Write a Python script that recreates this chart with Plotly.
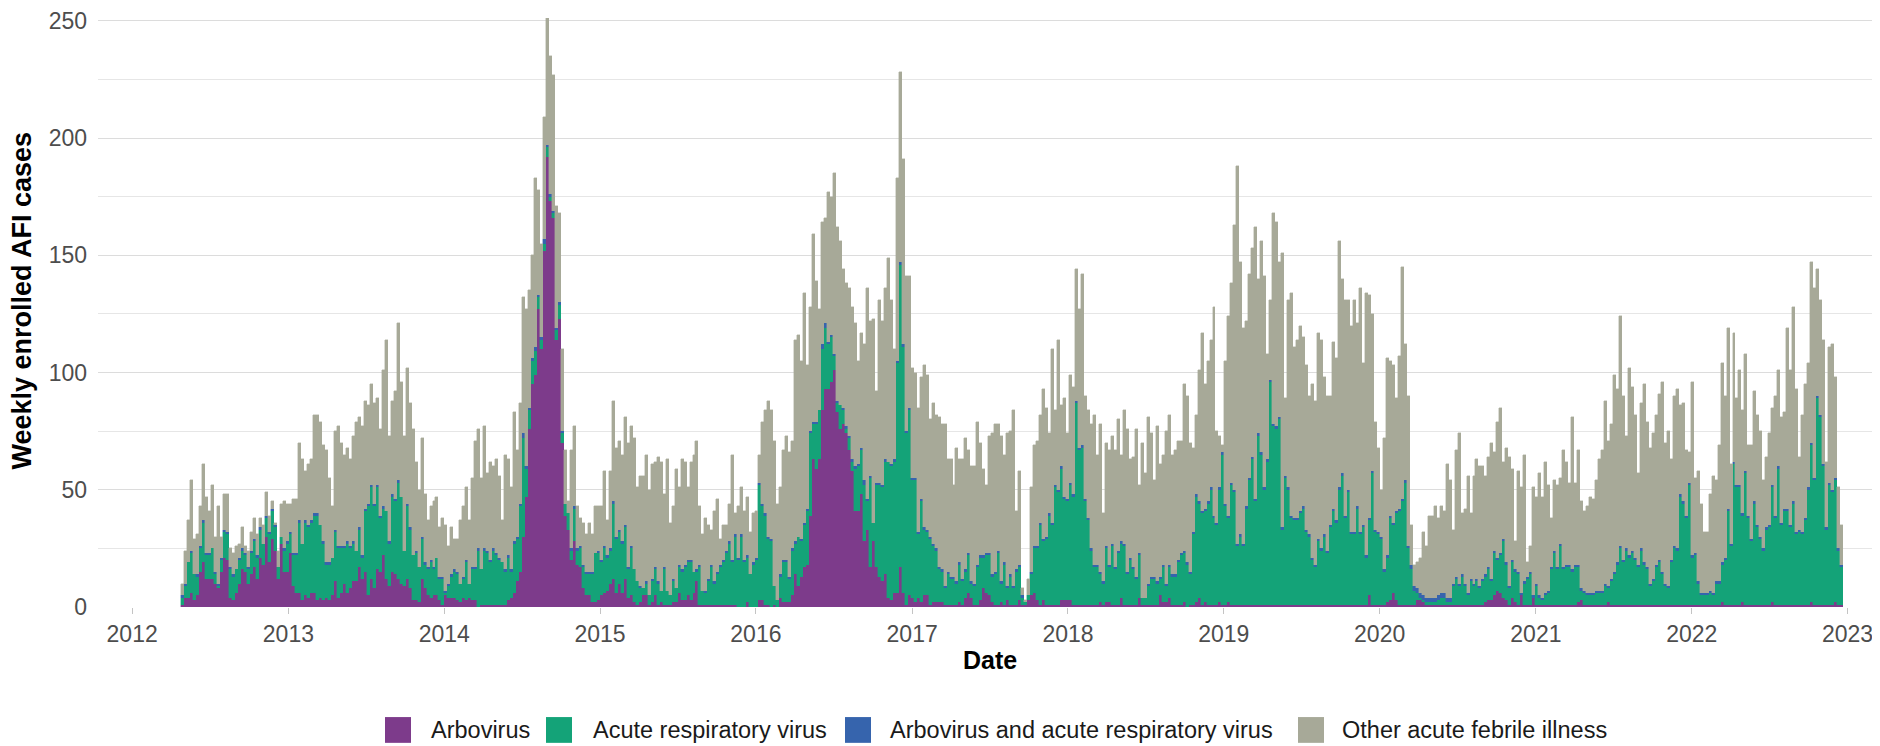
import pandas as pd
import plotly.graph_objects as go

# ---------------- data (weekly counts) ----------------
week_start = "2012-04-29"
n_weeks = 556

total_cases = [
    10,24,37,54,29,31,43,61,47,41,52,30,43,30,48,48,25,23,26,27,34,26,24,32,38,31,38,35,49,39,45,36,24,44,45,44,44,46,46,70,63,58,61,63,82,
    82,79,69,67,55,43,75,77,70,65,68,63,73,79,81,77,88,86,95,87,89,76,101,114,73,88,92,121,96,73,102,87,76,62,50,72,48,37,43,45,47,34,38,35,26,34,29,
    29,37,43,51,37,55,71,76,55,77,57,62,60,63,56,37,65,63,51,83,67,87,132,127,135,150,183,178,155,209,251,235,227,171,168,110,67,45,67,77,43,38,36,31,36,31,43,
    43,43,58,37,58,88,68,71,65,81,70,77,72,51,56,56,65,50,61,62,64,62,48,63,36,43,59,51,63,62,51,62,65,71,43,31,38,35,33,41,46,29,35,35,44,65,40,
    43,51,41,47,32,40,41,65,79,84,88,84,71,44,51,67,73,66,71,114,116,105,134,103,128,159,139,127,164,166,177,175,185,162,156,144,138,136,128,121,105,117,112,136,122,123,92,
    131,122,136,149,131,110,183,228,191,141,141,102,100,85,98,103,99,80,87,82,81,78,78,63,63,52,68,63,63,72,67,60,60,79,70,59,52,73,74,78,78,73,65,74,75,84,41,
    58,8,3,12,51,69,71,82,93,85,74,110,84,114,86,89,74,99,94,144,127,142,90,84,78,82,65,78,40,70,67,73,67,80,65,84,76,63,64,76,52,70,57,81,74,54,
    77,61,65,75,82,65,67,71,71,95,90,70,68,82,101,117,95,105,114,128,75,73,69,105,124,138,163,188,147,119,122,142,153,162,140,156,141,108,131,168,164,147,151,89,131,134,111,
    114,120,115,103,90,95,88,117,114,98,90,90,113,106,156,140,131,131,120,131,121,136,104,134,133,125,79,68,50,72,106,105,103,89,107,145,112,90,35,18,19,21,32,26,39,39,43,
    38,43,41,61,54,33,67,74,40,42,56,40,56,63,60,60,56,64,70,66,79,85,62,68,64,59,28,58,51,65,19,26,51,47,57,47,62,52,38,54,52,55,67,62,53,81,53,
    67,45,41,43,47,46,54,63,67,88,71,78,99,93,124,90,73,102,94,82,57,87,95,79,68,74,82,91,96,70,75,63,90,93,86,87,67,66,96,55,58,44,32,32,48,56,54,
    69,104,90,119,61,117,89,101,84,108,69,69,92,82,75,54,64,74,85,90,101,81,83,119,101,128,93,64,82,95,104,147,136,144,131,114,62,111,112,98,51,35,
]

arbovirus = [
    1,4,4,6,3,5,15,19,12,12,12,10,8,15,21,20,4,3,6,10,16,15,10,14,17,12,21,18,30,19,29,24,12,27,15,15,23,9,6,6,3,5,4,6,6,
    3,4,3,4,3,5,11,4,6,10,6,8,11,11,17,12,15,5,12,8,16,15,22,12,9,15,14,12,10,9,12,8,3,3,2,12,8,5,4,5,5,3,1,5,4,4,4,
    3,2,4,3,4,3,3,0,1,1,1,1,1,1,1,1,1,3,4,6,11,15,30,47,76,95,99,127,110,152,192,173,166,114,123,70,39,33,20,28,18,17,8,5,5,2,2,
    3,5,6,7,10,12,6,10,6,12,4,5,2,1,2,5,5,1,2,5,1,2,1,1,1,2,2,6,3,3,5,3,6,11,1,1,1,1,1,1,1,1,1,1,1,1,1,
    0,0,0,2,0,0,0,3,3,1,1,0,1,0,4,2,2,2,5,14,9,13,17,18,39,63,59,63,84,93,93,96,101,83,76,78,74,67,58,41,41,48,28,33,17,28,17,
    13,11,14,4,3,6,6,17,6,1,5,4,2,4,2,5,5,1,2,2,2,2,1,1,1,1,1,2,1,4,6,4,1,1,3,8,6,5,2,1,1,2,1,3,1,1,1,
    3,1,1,3,5,6,3,1,3,1,1,1,1,1,3,3,3,3,1,1,1,1,1,1,1,1,1,2,1,2,2,1,1,1,4,1,1,1,1,1,4,1,1,1,1,1,
    1,5,2,2,4,1,1,1,1,2,0,1,1,2,4,1,2,1,1,1,1,2,1,1,2,1,1,1,1,1,1,1,1,1,1,1,1,1,1,1,1,1,1,1,1,1,1,
    1,1,1,1,1,1,1,1,1,1,1,1,1,1,1,1,1,1,1,1,1,1,1,1,5,1,1,1,1,1,2,3,6,3,1,1,1,1,1,1,3,3,2,1,1,1,1,
    1,1,1,1,1,1,1,1,1,1,1,1,1,1,1,1,2,3,3,5,7,6,4,3,1,4,2,1,5,1,1,1,4,1,1,1,1,1,1,1,1,1,1,1,1,1,1,
    2,3,1,1,1,1,1,1,1,1,2,1,1,1,1,1,1,1,1,1,1,1,1,1,1,1,1,1,1,1,1,1,1,1,1,1,1,1,1,1,1,1,1,1,1,1,1,
    1,2,1,1,1,1,1,1,2,1,1,1,1,1,1,1,1,1,2,1,1,1,1,1,1,1,1,1,1,1,1,2,1,1,1,1,1,1,1,2,1,1,
]

respiratory_virus = [
    3,5,15,17,11,8,10,17,10,10,13,4,1,5,11,11,12,10,10,10,8,7,6,9,11,9,12,9,8,12,12,10,5,3,9,12,8,13,16,30,24,31,30,30,33,
    36,31,24,14,15,16,21,21,19,15,21,17,16,13,16,9,26,38,39,35,35,23,20,29,18,32,31,41,37,15,31,25,19,20,15,17,10,11,15,11,16,9,11,1,5,9,11,
    11,8,8,16,6,13,13,24,15,23,22,18,23,21,19,18,14,18,11,21,18,28,42,12,8,10,10,5,4,3,4,2,2,4,6,4,5,7,4,14,6,8,9,9,9,12,21,
    20,14,19,14,14,32,23,22,21,22,12,20,14,10,6,3,5,4,9,11,9,5,15,6,4,9,6,11,12,14,14,16,9,4,16,6,5,10,16,9,13,16,18,22,26,18,29,
    20,30,19,19,14,18,20,49,40,38,28,28,8,3,9,17,17,10,19,13,21,15,18,23,35,15,19,21,26,26,19,19,6,4,10,6,2,5,4,18,19,19,24,12,38,8,35,
    39,40,48,58,57,56,98,129,105,73,79,50,52,27,43,28,27,28,24,22,14,13,7,13,11,11,9,16,10,11,16,6,8,16,18,13,16,17,11,13,22,8,17,5,12,7,14,
    14,3,1,2,9,19,22,34,25,28,38,34,50,48,56,43,42,49,46,86,66,67,44,36,23,16,16,12,9,23,15,25,15,22,23,25,13,19,15,11,18,3,3,8,11,11,
    9,7,15,7,13,12,12,18,21,21,18,13,30,45,40,39,39,43,49,37,34,48,64,42,36,51,48,25,29,25,41,53,62,44,72,64,49,61,95,76,75,79,32,54,49,37,36,
    36,39,41,31,29,19,16,27,23,29,22,33,40,35,49,55,37,48,30,30,41,30,33,20,32,56,31,30,28,14,19,35,29,37,40,44,52,24,15,6,3,1,1,1,1,1,1,
    2,3,3,1,1,8,11,8,12,8,4,10,8,10,7,10,11,13,8,18,13,16,24,15,7,15,13,13,0,9,11,13,0,8,3,2,4,5,15,22,15,25,15,16,16,14,16,
    15,4,5,4,4,4,5,5,5,8,6,10,13,17,24,18,23,20,22,19,16,23,17,15,8,10,16,18,13,8,7,18,24,23,46,43,37,51,20,21,9,4,4,4,5,4,9,
    9,16,19,40,25,60,50,50,37,56,37,27,43,33,28,23,32,33,49,37,58,34,40,40,33,43,30,31,30,36,49,67,53,88,80,59,32,51,48,52,23,16,
]

arbo_and_respiratory = [
    1,1,0,1,0,1,1,1,1,1,0,1,1,1,1,1,1,1,0,1,1,1,1,1,1,1,1,0,1,1,1,1,0,0,1,1,1,1,1,1,0,1,1,1,1,
    1,0,1,1,1,0,1,1,1,1,1,1,1,0,1,1,1,1,1,1,1,1,1,0,1,1,1,1,0,0,1,1,0,1,0,1,1,1,1,1,0,1,1,1,1,1,1,
    1,0,1,1,0,1,1,1,0,1,1,1,1,1,1,0,1,1,1,1,1,1,2,1,1,1,2,1,1,2,1,1,1,1,1,1,0,0,1,1,1,1,1,1,1,1,0,
    1,1,1,1,1,1,1,1,1,1,1,1,0,0,1,0,1,0,1,1,1,0,1,0,0,1,0,1,1,1,1,1,0,1,1,0,1,1,1,1,1,1,1,1,1,1,1,
    1,1,1,1,0,1,1,1,1,1,1,1,0,0,1,1,1,1,1,1,0,1,1,1,1,1,1,0,2,2,1,1,1,1,0,1,1,1,1,1,1,1,2,1,1,0,1,
    1,1,1,0,1,1,1,1,1,1,1,1,1,1,1,1,1,1,1,1,1,1,1,1,1,1,1,1,1,1,1,1,1,1,1,1,1,1,1,1,1,1,1,1,1,1,1,
    1,1,0,0,1,1,1,1,1,1,1,1,1,1,1,1,1,1,1,1,1,1,1,1,1,1,1,1,1,1,1,1,1,1,1,1,1,1,1,1,1,0,0,1,1,1,
    1,1,1,1,1,1,1,1,1,1,1,1,1,1,1,1,1,1,1,1,1,1,1,1,1,1,1,1,1,1,1,1,1,1,1,1,1,1,1,1,1,1,1,1,1,1,1,
    1,1,1,1,1,1,1,1,1,1,1,1,1,1,1,1,1,1,1,1,1,1,1,1,1,1,1,1,1,1,1,1,1,1,1,1,1,1,2,2,2,2,2,2,2,2,2,
    2,2,2,2,2,1,1,1,1,1,1,1,1,1,1,1,1,1,1,1,1,1,1,1,1,1,1,1,1,1,1,1,1,1,1,1,1,1,1,1,1,1,1,1,1,1,1,
    1,1,1,1,1,1,1,1,1,1,1,1,1,1,1,1,1,1,1,1,1,1,1,1,1,1,1,1,1,1,1,1,1,1,1,1,1,1,1,1,1,1,1,1,1,1,1,
    1,1,1,1,1,1,1,1,1,1,1,1,1,1,1,1,1,1,1,1,1,1,1,1,1,1,1,1,1,1,1,1,1,1,1,1,1,1,1,1,1,1,
]

year_ticks = list(range(2012, 2024))
y_ticks = [0, 50, 100, 150, 200, 250]

series_names = ["Arbovirus", "Acute respiratory virus",
                "Arbovirus and acute respiratory virus", "Other acute febrile illness"]
series_colors = ["#7D3B8B", "#14A378", "#3664AD", "#A7A998"]

# ---------------- derived ----------------
for arr in (total_cases, arbovirus, respiratory_virus, arbo_and_respiratory):
    assert len(arr) == n_weeks, len(arr)

other_afi = [max(t - a - r - b, 0) for t, a, r, b in
             zip(total_cases, arbovirus, respiratory_virus, arbo_and_respiratory)]
dates = pd.date_range(week_start, periods=n_weeks, freq="7D")

# ---------------- figure ----------------
# The page body has an 8 px margin, so the figure is drawn 8 px in from the
# top-left corner of the window.  Positions below are window pixels.
OFF = 8
PAGE_W, PAGE_H = 1880, 746
W, H = PAGE_W - OFF, PAGE_H - OFF
plot_left, plot_right, plot_top, plot_bottom = 98, 1880, 13, 607   # window px
L, R, T, B = plot_left - OFF, PAGE_W - plot_right, plot_top - OFF, PAGE_H - plot_bottom
PW, PH = W - L - R, H - T - B
FONT = "Liberation Sans, Arial, Helvetica, sans-serif"


def px_x(px):
    return (px - plot_left) / PW


def px_y(py):
    return (plot_bottom - py) / PH


fig = go.Figure()
week_ms = 7 * 24 * 3600 * 1000
for name, vals, col in zip(series_names,
                           [arbovirus, respiratory_virus, arbo_and_respiratory, other_afi],
                           series_colors):
    fig.add_trace(go.Bar(x=dates, y=vals, name=name, width=week_ms,
                         marker=dict(color=col, line=dict(color=col, width=0.4)),
                         showlegend=False))

fig.update_layout(
    width=W, height=H,
    margin=dict(l=L, r=R, t=T, b=B, pad=0),
    paper_bgcolor="white", plot_bgcolor="white",
    barmode="stack", bargap=0,
    font=dict(family=FONT, color="#1a1a1a"),
)
fig.update_xaxes(
    type="date", range=["2011-10-13", "2023-03-18"],
    tickmode="array",
    tickvals=[f"{y}-01-01" for y in year_ticks],
    ticktext=[str(y) for y in year_ticks],
    ticks="outside", ticklen=6, tickwidth=1, tickcolor="#c4c4c4",
    showgrid=False, showline=False, zeroline=False,
    ticklabeloverflow="allow",
    tickfont=dict(size=23, color="#4d4d4d", family=FONT),
)
fig.update_yaxes(
    range=[0, 251.2],
    tickmode="array", tickvals=y_ticks, ticktext=[str(v) for v in y_ticks],
    showgrid=True, gridcolor="#dcdcdc", gridwidth=1,
    minor=dict(tickmode="array", tickvals=[25, 75, 125, 175, 225],
               showgrid=True, gridcolor="#e6e6e6", gridwidth=1),
    zeroline=False, showline=False, ticks="",
    ticklabelstandoff=10,
    ticklabeloverflow="allow",
    tickfont=dict(size=23, color="#4d4d4d", family=FONT),
)

annotations = [
    dict(text="<b>Date</b>", x=px_x(990), y=px_y(660), xref="paper", yref="paper",
         xanchor="center", yanchor="middle", showarrow=False,
         font=dict(size=25, color="#000000", family=FONT)),
    dict(text="<b>Weekly enrolled AFI cases</b>", x=px_x(22), y=px_y(298),
         xref="paper", yref="paper", xanchor="center", yanchor="middle",
         textangle=-90, showarrow=False,
         font=dict(size=27, color="#000000", family=FONT)),
]
shapes = []
key_left = [385, 546, 845, 1298]
text_left = [429, 591, 888, 1340]
key_top, key_bot, key_mid = 718, 744, 731
for name, col, kx, tx in zip(series_names, series_colors, key_left, text_left):
    shapes.append(dict(type="rect", xref="paper", yref="paper",
                       x0=px_x(kx), x1=px_x(kx + 26), y0=px_y(key_bot), y1=px_y(key_top),
                       fillcolor=col, line=dict(width=0)))
    annotations.append(dict(text=name, x=px_x(tx), y=px_y(key_mid),
                            xref="paper", yref="paper", xanchor="left", yanchor="middle",
                            showarrow=False,
                            font=dict(size=23.5, color="#1a1a1a", family=FONT)))

fig.update_layout(annotations=annotations, shapes=shapes)
fig.write_html("out.html")
